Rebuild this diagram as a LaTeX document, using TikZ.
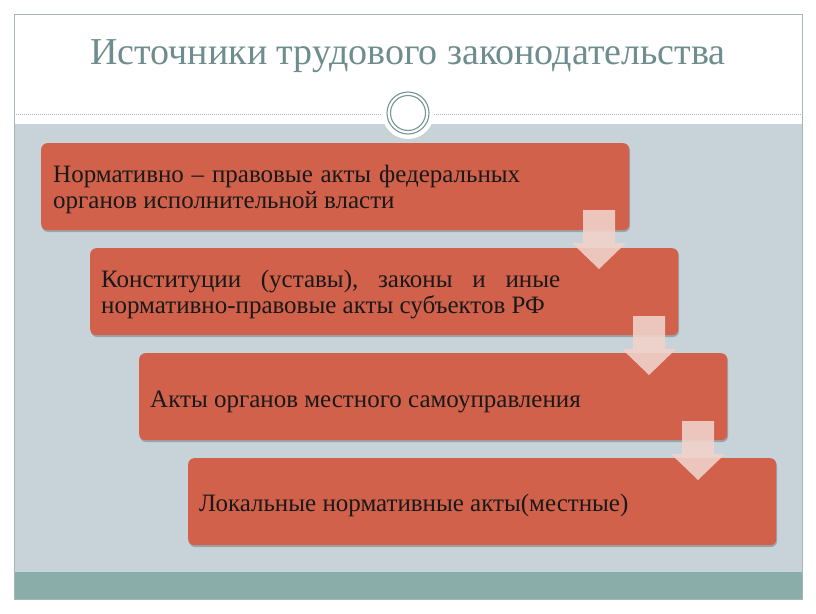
\documentclass[tikz,border=0pt]{standalone}
\usepackage{fontspec}
\setmainfont{Liberation Serif}
\usetikzlibrary{shadows}
\definecolor{boxred}{RGB}{209,97,74}
\definecolor{bggray}{RGB}{200,211,217}
\definecolor{barteal}{RGB}{139,173,170}
\definecolor{titlec}{RGB}{111,141,142}
\definecolor{framec}{RGB}{165,182,182}
\definecolor{dashc}{RGB}{170,185,186}
\definecolor{ringc}{RGB}{120,148,148}
\definecolor{arrowc}{RGB}{240,210,202}
\tikzset{
  redbox/.style={fill=boxred, rounded corners=6pt, minimum width=588pt, minimum height=87pt,
    anchor=north west, inner sep=0pt,
    drop shadow={shadow xshift=0.8pt, shadow yshift=-1.8pt, opacity=0.35, fill=black!70}},
  boxtext/.style={anchor=base west, inner sep=0pt, font=\fontsize{25}{27}\selectfont, text=black!90},
  blockarrow/.style={fill=arrowc, fill opacity=0.9, draw=none},
}
\begin{document}
\begin{tikzpicture}[x=1pt,y=-1pt]
\useasboundingbox (0,0) rectangle (816,613);
\fill[white] (0,0) rectangle (816,613);
\fill[bggray] (14,124) rectangle (802,572);
\fill[barteal] (14,572) rectangle (802,599);
\draw[framec, line width=0.8pt] (14,14) rectangle (802,599);
\draw[dashc, line width=0.6pt, dash pattern=on 1.2pt off 0.8pt] (14,114) -- (802,114);
\fill[white] (408,113) circle (26);
\draw[ringc, line width=1.1pt] (408,113) circle (21);
\draw[ringc, line width=1.1pt] (408,113) circle (17.5);
\node[text=titlec, font=\fontsize{38}{42}\selectfont, inner sep=0pt, anchor=base] (title) at (408,64) {Источники трудового законодательства};

\node[redbox] (b1) at (41,143) {};
\node[redbox] (b2) at (90,248) {};
\node[redbox] (b3) at (139,353) {};
\node[redbox] (b4) at (188,458) {};

\node[boxtext] (t1a) at (53,182) {\hbox to 467pt{Нормативно\hfill–\hfill правовые\hfill акты\hfill федеральных}};
\node[boxtext] (t1b) at (53,208) {органов исполнительной власти};
\node[boxtext] (t2a) at (101,287) {\hbox to 459pt{Конституции\hfill(уставы),\hfill законы\hfill и\hfill иные}};
\node[boxtext] (t2b) at (101,313) {нормативно-правовые акты субъектов РФ};
\node[boxtext] (t3) at (150,407) {Акты органов местного самоуправления};
\node[boxtext] (t4) at (199,511) {Локальные нормативные акты(местные)};

\foreach \cx/\ty in {599/210, 649/316, 698/421}{
  \fill[blockarrow] (\cx-16,\ty) -- (\cx+16,\ty) -- (\cx+16,\ty+33) -- (\cx+27,\ty+33)
    -- (\cx,\ty+59) -- (\cx-27,\ty+33) -- (\cx-16,\ty+33) -- cycle;
}
\end{tikzpicture}
\end{document}
